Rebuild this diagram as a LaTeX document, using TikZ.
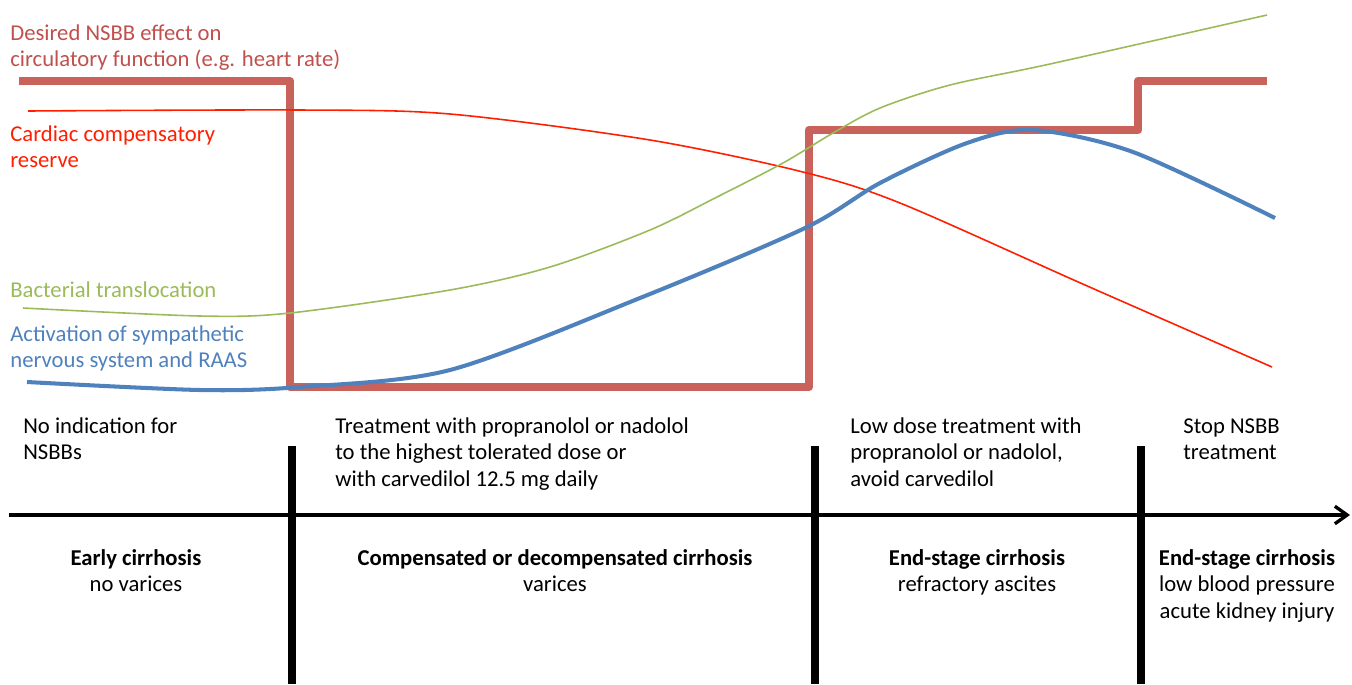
\documentclass[tikz,border=0pt]{standalone}
\usepackage{fontspec}
\setmainfont{Carlito}
\usetikzlibrary{arrows.meta}
\definecolor{nsbbred}{RGB}{201,98,90}
\definecolor{nsbbtext}{RGB}{192,80,77}
\definecolor{cardred}{RGB}{255,30,0}
\definecolor{bactgreen}{RGB}{155,187,89}
\definecolor{sympblue}{RGB}{79,129,189}

\begin{document}
\begin{tikzpicture}[x=0.02cm,y=-0.02cm,
  lbl/.style={inner sep=0pt,font=\fontsize{12.9}{15}\selectfont},
  leftlbl/.style={lbl,align=left,anchor=base west},
  stagelbl/.style={lbl,align=center,anchor=base},
  effect/.style={draw=nsbbred,line width=5pt,line join=round},
  thincurve/.style={line width=0.9pt},
  stagebar/.style={line width=4.8pt}]
\useasboundingbox (0,0) rectangle (1352,684);
\draw[effect] (19,81) -- (290,81) -- (290,387) -- (809,387) -- (809,130) -- (1138,130) -- (1138,81) -- (1267,81);
\draw[thincurve,cardred] plot[smooth] coordinates {(28,111) (300,110) (450,114) (650,140) (803,172) (900,203) (1085,285) (1272,367)};
\draw[thincurve,bactgreen] plot[smooth] coordinates {(23,308) (200,316) (290,313) (450,290) (550,267) (650,230) (717,197) (783,163) (833,133) (880,108) (950,85) (1050,64) (1267,15)};
\draw[line width=2.3pt,sympblue] plot[smooth] coordinates {(27,382) (200,390) (300,387) (450,370) (640,298) (805,228) (880,183) (967,143) (1033,130) (1133,152) (1275,218)};
\node[leftlbl,text=nsbbtext] (effectlbl) at (10,66.5) {Desired NSBB effect on\\circulatory function (e.g. heart rate)};
\node[leftlbl,text=cardred] (cardlbl) at (10,167.5) {Cardiac compensatory\\reserve};
\node[leftlbl,text=bactgreen] (bactlbl) at (10,297) {Bacterial translocation};
\node[leftlbl,text=sympblue] (symplbl) at (10,367.5) {Activation of sympathetic\\nervous system and RAAS};
\coordinate (axisstart) at (9,515);
\coordinate (axisend) at (1350,515);
\draw[line width=1.9pt,-{Straight Barb[length=7pt,width=10pt]}] (axisstart) -- (axisend);
\foreach \x/\nm in {292/bara,815/barb,1141/barc} {
  \coordinate (\nm top) at (\x,446);
  \coordinate (\nm bot) at (\x,684);
  \draw[stagebar] (\nm top) -- (\nm bot);
}
\node[leftlbl] (noind) at (23,459.5) {No indication for\\NSBBs};
\node[leftlbl] (treat) at (335,486) {Treatment with propranolol or nadolol\\to the highest tolerated dose or\\with carvedilol 12.5 mg daily};
\node[leftlbl] (lowdose) at (850,486) {Low dose treatment with\\propranolol or nadolol,\\avoid carvedilol};
\node[leftlbl] (stop) at (1183,459.5) {Stop NSBB\\treatment};
\node[stagelbl] (early) at (136,591.5) {\textbf{Early cirrhosis}\\no varices};
\node[stagelbl] (comp) at (555,591.5) {\textbf{Compensated or decompensated cirrhosis}\\varices};
\node[stagelbl] (endstage) at (977,591.5) {\textbf{End-stage cirrhosis}\\refractory ascites};
\node[stagelbl] (endkidney) at (1247,618) {\textbf{End-stage cirrhosis}\\low blood pressure\\acute kidney injury};
\end{tikzpicture}
\end{document}
